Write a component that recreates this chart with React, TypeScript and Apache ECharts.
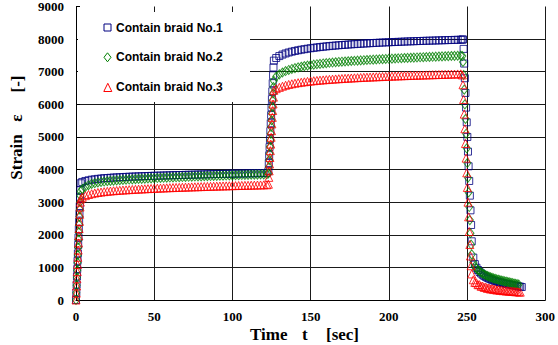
import React, { useEffect, useRef } from "react";
import * as echarts from "echarts";

// time [sec]
const times = [
  0, 0.2, 0.4, 0.6, 0.8, 1, 1.2, 1.4, 1.6, 1.8, 2, 2.2, 2.4, 2.6, 2.8, 3,
  4, 6, 8, 10, 12, 14, 16, 18, 20, 22, 24, 26, 28, 30, 32, 34, 36, 38, 40, 42,
  44, 46, 48, 50, 52, 54, 56, 58, 60, 62, 64, 66, 68, 70, 72, 74, 76, 78, 80, 82,
  84, 86, 88, 90, 92, 94, 96, 98, 100, 102, 104, 106, 108, 110, 112, 114, 116, 118, 120, 122,
  123, 123.25, 123.5, 123.75, 124, 124.25, 124.5, 124.75, 125, 125.25, 125.5, 125.75, 126, 126.25, 126.5,
  128, 130, 132, 134, 136, 138, 140, 142, 144, 146, 148, 150, 152, 154, 156, 158, 160, 162, 164, 166,
  168, 170, 172, 174, 176, 178, 180, 182, 184, 186, 188, 190, 192, 194, 196, 198, 200, 202, 204, 206,
  208, 210, 212, 214, 216, 218, 220, 222, 224, 226, 228, 230, 232, 234, 236, 238, 240, 242, 244, 246,
  247, 247.4, 247.8, 248.2, 248.6, 249, 249.4, 249.8, 250.2, 250.6, 251, 251.4, 251.8, 252.2, 252.6, 253,
  254, 255, 256, 257, 258, 259, 260, 261, 262, 263, 264, 265, 266, 267, 268, 269, 270, 271, 272, 273,
  274, 275, 276, 277, 278, 279, 280, 281, 282, 283, 284, 285,
];

const braid1 = [
  0, 230, 470, 720, 950, 1200, 1430, 1690, 1920, 2170, 2400, 2650, 2880, 3130, 3370, 3580,
  3620, 3650, 3670, 3690, 3700, 3715, 3725, 3735, 3740, 3748,
  3755, 3760, 3765, 3770, 3775, 3780, 3784, 3788, 3792, 3795,
  3799, 3802, 3806, 3810, 3812, 3815, 3818, 3821, 3824, 3826,
  3829, 3832, 3834, 3837, 3840, 3842, 3845, 3847, 3850, 3852,
  3855, 3857, 3860, 3862, 3864, 3866, 3868, 3870, 3872, 3874,
  3876, 3878, 3880, 3882, 3884, 3886, 3888, 3890, 3892, 3895,
  3950, 4200, 4440, 4690, 4930, 5180, 5420, 5670, 5910, 6160, 6400, 6650, 6890, 7130, 7340,
  7420, 7480, 7525, 7560, 7590, 7615, 7637, 7657, 7675, 7691,
  7706, 7720, 7733, 7745, 7756, 7767, 7777, 7786, 7795, 7803,
  7811, 7819, 7826, 7833, 7840, 7846, 7852, 7858, 7864, 7869,
  7875, 7880, 7885, 7890, 7895, 7899, 7904, 7908, 7912, 7916,
  7920, 7924, 7928, 7932, 7935, 7939, 7942, 7946, 7949, 7952,
  7955, 7958, 7961, 7964, 7967, 7970, 7973, 7976, 7979, 7982,
  7985, 7990, 7700, 7250, 6800, 6350, 5900, 5450, 5000, 4550, 4100, 3650, 3200, 2750, 2300, 1800,
  1300, 1100, 990, 920, 860, 815, 775, 740, 710, 683,
  660, 640, 620, 602, 586, 571, 557, 544, 532, 520,
  509, 498, 488, 478, 468, 458, 448, 438, 428, 418,
  408, 398,
];

const braid2 = [
  0, 220, 450, 690, 910, 1150, 1380, 1610, 1850, 2080, 2310, 2550, 2780, 3010, 3200, 3330,
  3400, 3470, 3520, 3560, 3585, 3605, 3620, 3632, 3642, 3652,
  3660, 3668, 3675, 3682, 3688, 3694, 3700, 3705, 3710, 3715,
  3720, 3725, 3730, 3735, 3739, 3743, 3747, 3751, 3755, 3759,
  3763, 3767, 3770, 3774, 3778, 3781, 3785, 3788, 3792, 3795,
  3798, 3801, 3804, 3807, 3810, 3813, 3816, 3819, 3822, 3825,
  3828, 3831, 3834, 3837, 3840, 3843, 3846, 3849, 3852, 3855,
  3880, 4080, 4290, 4490, 4700, 4900, 5100, 5310, 5510, 5720, 5920, 6120, 6330, 6530, 6720,
  6850, 6920, 6975, 7020, 7055, 7085, 7110, 7133, 7153, 7172,
  7188, 7203, 7217, 7230, 7242, 7253, 7263, 7273, 7282, 7291,
  7299, 7307, 7314, 7321, 7328, 7335, 7341, 7347, 7353, 7359,
  7365, 7370, 7376, 7381, 7386, 7391, 7396, 7401, 7406, 7411,
  7415, 7420, 7424, 7429, 7433, 7437, 7442, 7446, 7450, 7454,
  7458, 7462, 7466, 7470, 7474, 7478, 7482, 7486, 7490, 7494,
  7480, 7300, 6900, 6450, 6000, 5550, 5100, 4650, 4200, 3750, 3300, 2850, 2450, 2050, 1700, 1400,
  1150, 1030, 965, 915, 875, 840, 810, 783, 758, 736,
  716, 697, 680, 664, 649, 635, 622, 609, 597, 585,
  574, 563, 552, 541, 530, 519, 508, 497, 486, 475,
  null, null,
];

const braid3 = [
  0, 210, 430, 650, 870, 1090, 1310, 1530, 1750, 1970, 2190, 2410, 2630, 2850, 3000, 3100,
  3150, 3200, 3235, 3260, 3280, 3297, 3310, 3322, 3333, 3342,
  3350, 3358, 3365, 3372, 3378, 3384, 3390, 3395, 3400, 3405,
  3410, 3415, 3420, 3424, 3428, 3432, 3436, 3440, 3444, 3447,
  3451, 3454, 3458, 3461, 3464, 3468, 3471, 3474, 3477, 3480,
  3483, 3486, 3489, 3492, 3495, 3498, 3500, 3503, 3506, 3508,
  3511, 3513, 3516, 3518, 3521, 3523, 3526, 3528, 3531, 3533,
  3550, 3760, 3960, 4170, 4370, 4580, 4780, 4990, 5190, 5400, 5600, 5810, 6010, 6220, 6430,
  6480, 6520, 6555, 6585, 6610, 6630, 6648, 6664, 6678, 6691,
  6703, 6714, 6724, 6733, 6742, 6750, 6758, 6765, 6772, 6779,
  6785, 6791, 6797, 6802, 6808, 6813, 6818, 6823, 6828, 6832,
  6837, 6841, 6845, 6849, 6853, 6857, 6861, 6865, 6869, 6872,
  6876, 6879, 6883, 6886, 6890, 6893, 6896, 6899, 6902, 6905,
  6908, 6911, 6914, 6917, 6920, 6923, 6926, 6929, 6932, 6935,
  6900, 6600, 6150, 5700, 5250, 4800, 4350, 3900, 3450, 3000, 2550, 2100, 1700, 1350, 1050, 800,
  620, 540, 530, 470, 470, 420, 425, 385, 395, 355,
  370, 335, 350, 320, 335, 305, 320, 295, 305, 285,
  295, 275, 285, 268, 275, 260, 265, 252, 256, 245,
  240, null,
];

const seriesNames = ["Contain braid No.1", "Contain braid No.2", "Contain braid No.3"];
const seriesColors = ["#000080", "#008000", "#ff0000"];
const yTitleParts = ["Strain", "ε", "[-]"];
const xTitleParts = ["Time", "t", "[sec]"];

const toPairs = (vals: (number | null)[]) =>
  times
    .map((t, i) => (vals[i] == null ? null : [t, vals[i] as number]))
    .filter((p) => p !== null) as number[][];

const SERIF = '"Liberation Serif", "Times New Roman", serif';
const SANS = '"Liberation Sans", Arial, sans-serif';

export default function App() {
  const ref = useRef<HTMLDivElement>(null);
  useEffect(() => {
    if (!ref.current) return;
    const chart = echarts.init(ref.current, null, { renderer: "svg" });
    const valueSets = [braid1, braid2, braid3];
    const symbols = ["rect", "diamond", "triangle"];
    const symbolSizes: any[] = [7, [7, 9], 8];

    const series = valueSets.map((vals, i) => ({
      name: seriesNames[i],
      type: "scatter",
      data: toPairs(vals),
      symbol: symbols[i],
      symbolSize: symbolSizes[i],
      itemStyle: {
        color: "rgba(0,0,0,0)",
        borderColor: seriesColors[i],
        borderWidth: 1,
      },
      emphasis: { disabled: true },
      z: 2 + i,
    }));

    const legendRows = [28.3, 57.3, 87.3];
    const legendSymbols: any[] = [
      {
        type: "rect",
        z: 11,
        shape: { x: 104, y: 24, width: 7, height: 7 },
        style: { fill: "none", stroke: seriesColors[0], lineWidth: 1 },
      },
      {
        type: "polygon",
        z: 11,
        shape: { points: [[107.5, 52.8], [111, 57.3], [107.5, 61.8], [104, 57.3]] },
        style: { fill: "none", stroke: seriesColors[1], lineWidth: 1 },
      },
      {
        type: "polygon",
        z: 11,
        shape: { points: [[107.8, 83.3], [111.8, 91.5], [103.8, 91.5]] },
        style: { fill: "none", stroke: seriesColors[2], lineWidth: 1 },
      },
    ];
    const legendTexts = seriesNames.map((n, i) => ({
      type: "text",
      z: 11,
      x: 116,
      y: legendRows[i],
      style: {
        text: n,
        fill: "#000",
        font: `bold 12px ${SANS}`,
        align: "left",
        verticalAlign: "middle",
        textAlign: "left",
        textVerticalAlign: "middle",
      },
    }));

    const yTitlePos = [
      [16, 157],
      [16, 118],
      [17, 84],
    ];
    const yTitles = yTitleParts.map((t, i) => ({
      type: "text",
      z: 11,
      x: yTitlePos[i][0],
      y: yTitlePos[i][1],
      rotation: Math.PI / 2,
      style: {
        text: t,
        fill: "#000",
        font: `bold 17px ${SERIF}`,
        align: "center",
        verticalAlign: "middle",
        textAlign: "center",
        textVerticalAlign: "middle",
      },
    }));
    const xTitleX = [250, 302, 326];
    const xTitles = xTitleParts.map((t, i) => ({
      type: "text",
      z: 11,
      x: xTitleX[i],
      y: 334,
      style: {
        text: t,
        fill: "#000",
        font: `bold 17px ${SERIF}`,
        align: "left",
        verticalAlign: "middle",
        textAlign: "left",
        textVerticalAlign: "middle",
      },
    }));

    const axisLabel = {
      color: "#000",
      fontFamily: SERIF,
      fontWeight: "bold",
      fontSize: 13,
      formatter: (v: number) => String(v),
    };

    chart.setOption({
      animation: false,
      backgroundColor: "#fff",
      grid: { left: 76, right: 8, top: 6, bottom: 45, containLabel: false },
      xAxis: {
        type: "value",
        min: 0,
        max: 300,
        interval: 50,
        axisLine: { show: true, onZero: false, lineStyle: { color: "#000", width: 1 } },
        axisTick: { show: false },
        axisLabel: { ...axisLabel, margin: 10 },
        splitLine: { show: true, lineStyle: { color: "#1a1a1a", width: 1 } },
      },
      yAxis: {
        type: "value",
        min: 0,
        max: 9000,
        interval: 1000,
        axisLine: { show: true, onZero: false, lineStyle: { color: "#000", width: 1 } },
        axisTick: { show: true, inside: true, length: 4, lineStyle: { color: "#000" } },
        axisLabel: { ...axisLabel, margin: 12 },
        splitLine: {
          show: true,
          showMaxLine: false,
          lineStyle: { color: "#1a1a1a", width: 1 },
        },
      },
      series,
      graphic: [
        {
          type: "rect",
          z: 10,
          shape: { x: 78, y: 12, width: 172, height: 90 },
          style: { fill: "#fff", stroke: "none" },
        },
        ...legendSymbols,
        ...legendTexts,
        ...yTitles,
        ...xTitles,
      ],
    });
    return () => chart.dispose();
  }, []);
  return (
    <div
      ref={ref}
      style={{ position: "fixed", left: 0, top: 0, width: 558, height: 345 }}
    />
  );
}
